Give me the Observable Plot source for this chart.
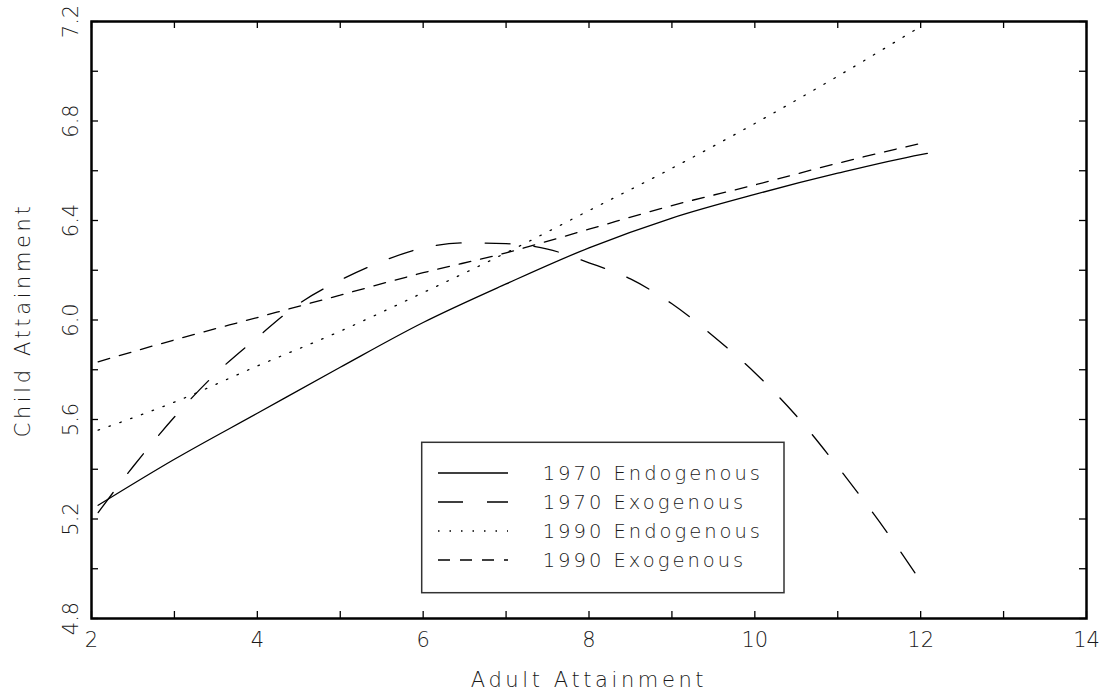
<!DOCTYPE html>
<html>
<head>
<meta charset="utf-8">
<script src="https://cdn.jsdelivr.net/npm/d3@7"></script>
<script src="https://cdn.jsdelivr.net/npm/@observablehq/plot@0.6"></script>
<style>
  html, body { margin: 0; padding: 0; background: #fff; }
  #chart svg { display: block; }
</style>
</head>
<body>
<div id="chart"></div>
<script>
// ---- data ----
const seriesNames = ["1970 Endogenous", "1970 Exogenous", "1990 Endogenous", "1990 Exogenous"];

const endo1970X = [2.08, 3, 4, 5, 6, 7, 8, 9, 10, 11, 12, 12.08];
const endo1970Y = [5.255, 5.44, 5.625, 5.81, 5.99, 6.145, 6.29, 6.41, 6.505, 6.59, 6.665, 6.67];

const exo1970X = [2.08, 2.5, 3, 3.5, 4, 4.5, 5, 5.5, 6, 6.5, 7, 7.5, 8, 8.5, 9, 9.5, 10, 10.5, 11, 11.5, 12];
const exo1970Y = [5.226, 5.41, 5.61, 5.785, 5.93, 6.065, 6.16, 6.235, 6.29, 6.31, 6.307, 6.285, 6.23, 6.165, 6.065, 5.935, 5.788, 5.615, 5.41, 5.19, 4.95];

const endo1990X = [2.08, 3, 4, 5, 6, 7, 8, 9, 10, 11, 12];
const endo1990Y = [5.557, 5.67, 5.815, 5.955, 6.11, 6.27, 6.44, 6.61, 6.79, 6.98, 7.18];

const exo1990X = [2.08, 3, 4, 5, 6, 7, 8, 9, 10, 11, 12, 12.08];
const exo1990Y = [5.832, 5.92, 6.01, 6.10, 6.19, 6.27, 6.365, 6.46, 6.543, 6.63, 6.71, 6.716];

const xTickValues = [2, 3, 4, 5, 6, 7, 8, 9, 10, 11, 12, 13, 14];
const xTickLabels = [2, 4, 6, 8, 10, 12, 14];
const yTickValues = [4.8, 5.0, 5.2, 5.4, 5.6, 5.8, 6.0, 6.2, 6.4, 6.6, 6.8, 7.0, 7.2];
const yTickLabels = ["4.8", "5.2", "5.6", "6.0", "6.4", "6.8", "7.2"];

const xTitle = "Adult Attainment";
const yTitle = "Child Attainment";

// ---- styles ----
const dashes = ["none", "25,24", "1.5,10", "12,10"];
const FONT = "'DejaVu Sans', sans-serif";
const TEXT_COLOR = "#1a1a1a";
const M = { top: 21, right: 20, bottom: 82, left: 91 };
const W = 1106, H = 700;
const PW = W - M.left - M.right, PH = H - M.top - M.bottom;
const TICK = 7;

const zip = (xs, ys) => xs.map((x, i) => ({ x, y: ys[i] }));
const series = [
  zip(endo1970X, endo1970Y),
  zip(exo1970X, exo1970Y),
  zip(endo1990X, endo1990Y),
  zip(exo1990X, exo1990Y)
];

function legendMark(index, scales, values, dims) {
  const g = d3.create("svg:g");
  const left = dims.marginLeft + 330.7, top = dims.marginTop + 421.3;
  const w = 362.3, h = 150.4;
  g.append("rect")
    .attr("x", left).attr("y", top).attr("width", w).attr("height", h)
    .attr("fill", "white").attr("stroke", "#333").attr("stroke-width", 1.5);
  seriesNames.forEach((name, i) => {
    const cy = top + 30.7 + i * 29;
    g.append("line")
      .attr("x1", left + 16.3).attr("x2", left + 86.3)
      .attr("y1", cy).attr("y2", cy)
      .attr("stroke", "black").attr("stroke-width", 1.3)
      .attr("stroke-dasharray", dashes[i]);
    g.append("text")
      .attr("x", left + 121).attr("y", cy).attr("dy", "0.36em")
      .attr("text-anchor", "start")
      .attr("font-family", FONT).attr("font-size", 19.5).attr("font-weight", 200)
      .attr("letter-spacing", "3px").attr("fill", TEXT_COLOR)
      .text(name);
  });
  return g.node();
}

const lineMarks = series.map((d, i) =>
  Plot.line(d, {
    x: "x", y: "y", curve: "monotone-x",
    stroke: "black", strokeWidth: 1.3,
    strokeDasharray: dashes[i] === "none" ? undefined : dashes[i]
  })
);

const chart = Plot.plot({
  width: W, height: H,
  marginTop: M.top, marginRight: M.right, marginBottom: M.bottom, marginLeft: M.left,
  x: { domain: [2, 14], axis: null },
  y: { domain: [4.8, 7.2], axis: null },
  style: { fontFamily: FONT, background: "white", color: TEXT_COLOR },
  marks: [
    ...lineMarks,
    // inward ticks on all four sides
    Plot.tickX(xTickValues, { x: d => d, insetTop: PH - TICK, stroke: "black", strokeWidth: 1.3 }),
    Plot.tickX(xTickValues, { x: d => d, insetBottom: PH - TICK, stroke: "black", strokeWidth: 1.3 }),
    Plot.tickY(yTickValues, { y: d => d, insetRight: PW - TICK, stroke: "black", strokeWidth: 1.3 }),
    Plot.tickY(yTickValues, { y: d => d, insetLeft: PW - TICK, stroke: "black", strokeWidth: 1.3 }),
    Plot.frame({ stroke: "black", strokeWidth: 2.5 }),
    // tick labels
    Plot.text(xTickLabels, {
      x: d => d, text: d => String(d), frameAnchor: "bottom", dy: 22,
      lineAnchor: "middle", fontSize: 21, fontWeight: 200, fill: TEXT_COLOR
    }),
    Plot.text(yTickLabels, {
      y: d => +d, text: d => d, frameAnchor: "left", dx: -20, rotate: -90,
      textAnchor: "middle", lineAnchor: "middle", fontSize: 21, fontWeight: 200, fill: TEXT_COLOR
    }),
    // axis titles
    Plot.text([xTitle], {
      text: d => d, frameAnchor: "bottom", dy: 62, lineAnchor: "middle",
      fontSize: 21, fontWeight: 200, fill: TEXT_COLOR
    }),
    Plot.text([yTitle], {
      text: d => d, frameAnchor: "left", dx: -68, rotate: -90, textAnchor: "middle",
      lineAnchor: "middle", fontSize: 21, fontWeight: 200, fill: TEXT_COLOR
    }),
    legendMark
  ]
});

// widen the axis titles' letter spacing like the reference's stroke font
d3.select(chart).selectAll("text")
  .filter(function () { return this.textContent === xTitle || this.textContent === yTitle; })
  .attr("letter-spacing", "3.6px");

document.getElementById("chart").appendChild(chart);
</script>
</body>
</html>
